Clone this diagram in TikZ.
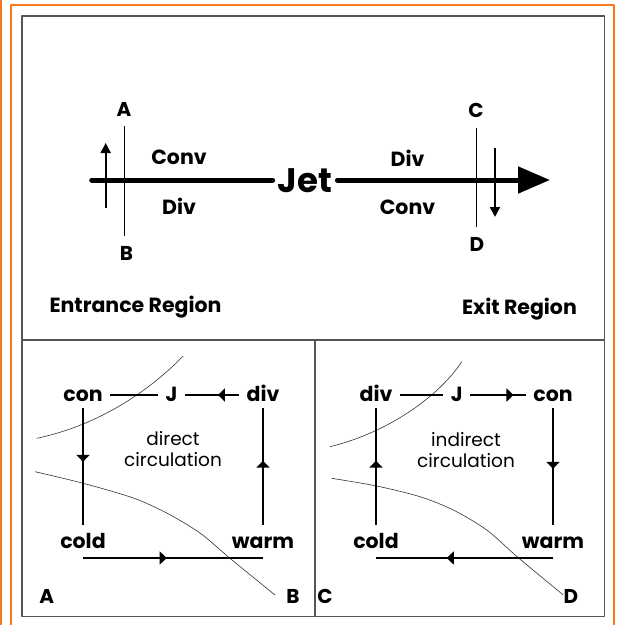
\documentclass[tikz,border=0pt]{standalone}
\usepackage{fontspec}
\setmainfont{Poppins}
\usetikzlibrary{arrows.meta,decorations.markings}
\definecolor{orangeline}{RGB}{250,120,30}
\definecolor{framegray}{RGB}{85,85,85}

\begin{document}
\begin{tikzpicture}[x=1pt,y=-1pt,line join=bevel]
  \tikzstyle{frame}=[draw=framegray,line width=1.7pt]
  \tikzstyle{border}=[draw=orangeline,line width=2pt]
  \tikzstyle{toplbl}=[font=\bfseries\fontsize{20.5}{20.5}\selectfont,inner sep=0pt,text height=14pt,text depth=0pt]
  \tikzstyle{toplet}=[font=\bfseries\fontsize{20}{20}\selectfont,inner xsep=0pt,inner ysep=10pt,text height=14pt,text depth=0pt]
  \tikzstyle{jet}=[font=\bfseries\fontsize{34}{34}\selectfont,inner xsep=5pt,inner ysep=0pt,text height=24pt,text depth=0pt]
  \tikzstyle{jetline}=[line width=5pt,line cap=round]
  \tikzstyle{thinline}=[line width=1pt]
  \tikzstyle{smallarrow}=[line width=2pt,-{Triangle[length=10pt,width=10pt]}]
  \tikzstyle{cell}=[font=\bfseries\fontsize{20.5}{20.5}\selectfont,anchor=base,inner xsep=7.5pt,inner ysep=7pt,text height=12pt,text depth=0pt]
  \tikzstyle{note}=[font=\fontsize{18.5}{21.7}\selectfont,align=center,inner sep=0pt]
  \tikzstyle{corner}=[font=\bfseries\fontsize{20}{20}\selectfont,inner sep=0pt,text height=14pt,text depth=0pt]
  \tikzstyle{circ}=[line width=2pt]
  \tikzstyle{isoline}=[draw=black!80,line width=0.6pt]
  \tikzset{midarrow/.style={postaction={decorate},decoration={markings,
      mark=at position #1 with {\arrow{Triangle[length=7pt,width=13pt]}}}}}

  \useasboundingbox (0,0) rectangle (617,625);

  % page borders
  \draw[border] (1,0) -- (1,625);
  \draw[border] (11,625) -- (11,4.8) -- (614.3,4.8) -- (614.3,625);
  \draw[frame] (22.2,15.8) rectangle (604.5,616.5);
  \draw[frame] (22.2,340.2) -- (604.5,340.2);
  \draw[frame] (315.2,340.2) -- (315.2,616.5);

  % jet streak
  \coordinate (jetstart) at (91.7,180);
  \coordinate (jettip) at (550,180);
  \node[jet] (Jet) at (305,180) {Jet};
  \draw[jetline] (jetstart) -- (Jet);
  \draw[jetline,-{Triangle[length=32pt,width=26pt]}] (Jet) -- (jettip);

  \node[toplet] (T_A) at (124,109) {A};
  \node[toplet] (T_B) at (126.5,253) {B};
  \node[toplet] (T_C) at (476,110.7) {C};
  \node[toplet] (T_D) at (477,244) {D};
  \draw[thinline] (T_A.south) -- (T_A.south |- T_B.north);
  \draw[thinline] (T_C.south) -- (T_C.south |- T_D.north);

  \coordinate (upfoot) at (105.7,207.7);
  \coordinate (uphead) at (105.7,143);
  \coordinate (downfoot) at (495,148);
  \coordinate (downhead) at (495,217);
  \draw[smallarrow] (upfoot) -- (uphead);
  \draw[smallarrow] (downfoot) -- (downhead);

  \node[toplbl] (T_conv1) at (179,157) {Conv};
  \node[toplbl] (T_div1) at (179,207) {Div};
  \node[toplbl] (T_div2) at (407.5,159) {Div};
  \node[toplbl] (T_conv2) at (407.5,207) {Conv};
  \node[toplbl] (T_entrance) at (135.5,305) {Entrance Region};
  \node[toplbl] (T_exit) at (519.5,307) {Exit Region};

  % direct circulation
  \draw[isoline] (36.7,438.3) .. controls (100,425) and (150,390) .. (183.3,356);
  \draw[isoline] plot[smooth] coordinates {(35,471.7) (83.3,483.3) (133.3,498)
    (166.7,513) (200,533) (230,558.3) (275,595)};
  \node[cell] (L_con) at (83,401) {con};
  \node[cell] (L_J) at (171.5,401) {J};
  \node[cell] (L_div) at (263,401) {div};
  \node[cell,text height=16pt] (L_cold) at (83,548) {cold};
  \node[cell,text height=16pt] (L_warm) at (263,548) {warm};
  \draw[circ] (L_con) -- (L_J);
  \draw[circ,midarrow=0.39] (L_div) -- (L_J);
  \draw[circ,midarrow=0.46] (L_con) -- (L_cold);
  \draw[circ,midarrow=0.55] (L_warm) -- (L_div);
  \draw[circ,midarrow=0.465] ([yshift=-10pt]L_cold.base) -- ([yshift=-10pt]L_warm.base);
  \node[note] (L_note) at (173,449) {direct\\circulation};
  \node[corner] (L_A) at (46.7,596.7) {A};
  \node[corner] (L_B) at (293,596.7) {B};

  % indirect circulation
  \draw[isoline] (330,446.7) .. controls (390,432) and (440,395) .. (461.7,361.7);
  \draw[isoline] plot[smooth] coordinates {(331.7,478.3) (376.7,486) (420,496.7)
    (453.3,510) (486.7,530) (518.3,557.7) (563.3,595)};
  \node[cell] (R_div) at (376,401) {div};
  \node[cell] (R_J) at (456.7,401) {J};
  \node[cell] (R_con) at (553,401) {con};
  \node[cell,text height=16pt] (R_cold) at (376,548) {cold};
  \node[cell,text height=16pt] (R_warm) at (553,548) {warm};
  \draw[circ] (R_div) -- (R_J);
  \draw[circ,midarrow=0.78] (R_J) -- (R_con);
  \draw[circ,midarrow=0.55] (R_cold) -- (R_div);
  \draw[circ,midarrow=0.52] (R_con) -- (R_warm);
  \draw[circ,midarrow=0.6] ([yshift=-10pt]R_warm.base) -- ([yshift=-10pt]R_cold.base);
  \node[note] (R_note) at (466,450) {indirect\\circulation};
  \node[corner] (R_C) at (325,596.7) {C};
  \node[corner] (R_D) at (571,596.7) {D};
\end{tikzpicture}
\end{document}
